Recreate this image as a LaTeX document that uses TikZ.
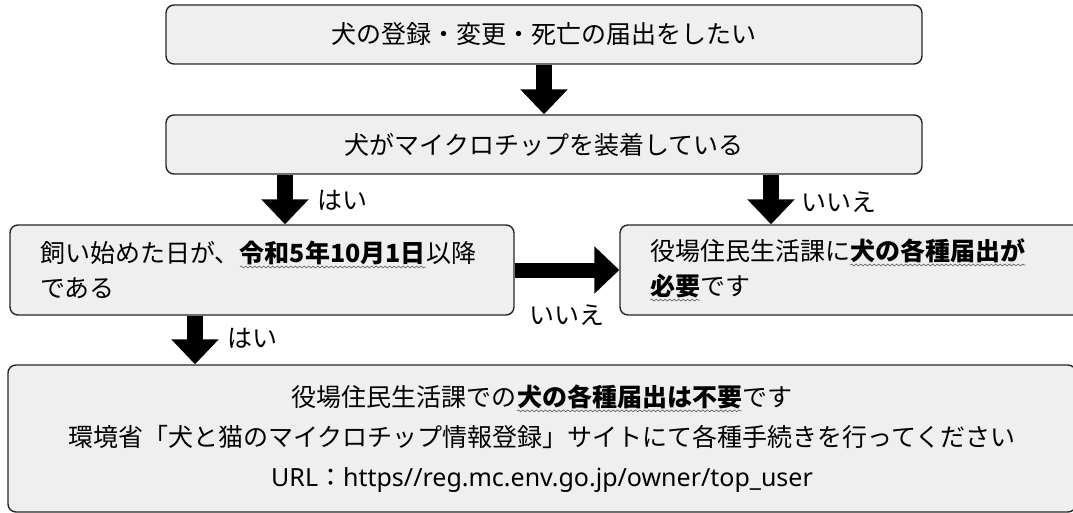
\documentclass[tikz,border=0pt]{standalone}
\usepackage{fontspec}
\setmainfont{Noto Sans CJK JP}
\newfontfamily\urlfont{Noto Sans}
\usetikzlibrary{arrows.meta,decorations.pathmorphing}
\definecolor{boxfill}{HTML}{EFEFEF}
\definecolor{boxline}{HTML}{262626}
\tikzset{
  flowbox/.style={draw=boxline, line width=1.4pt, fill=boxfill, rounded corners=8pt, inner sep=0pt},
  bigarrow/.style={line width=16pt, -{Triangle[width=46pt,length=25pt]}},
  answer/.style={anchor=west, inner sep=0pt},
  wvnode/.style={inner sep=0pt, outer sep=0pt, minimum size=0pt, text width={}, align=none, draw=none, fill=none, sharp corners},
  wavyline/.style={draw=black!65, line width=0.6pt, sharp corners, decorate, decoration={snake,amplitude=0.9pt,segment length=4.5pt}}
}
\newcommand{\wv}[1]{\tikz[baseline=(w.base)]{\node[wvnode] (w) {\bfseries #1}; \draw[wavyline] ([yshift=-2pt]w.south west) -- ([yshift=-2pt]w.south east);}}

\begin{document}
\begin{tikzpicture}[x=1pt, y=-1pt, font=\fontsize{25}{30}\selectfont]
\useasboundingbox (0,0) rectangle (1073,513);
\clip (0,0) rectangle (1073,513);
% boxes
\node[flowbox, minimum width=756pt, minimum height=59pt] (reg) at (544,34.5) {犬の登録・変更・死亡の届出をしたい};
\node[flowbox, minimum width=756pt, minimum height=59pt] (chip) at (544,144.5) {犬がマイクロチップを装着している};
\node[flowbox, minimum width=504pt, minimum height=90pt, text width=444pt, inner xsep=30pt, align=left, font=\fontsize{25}{35}\selectfont] (date) at (262,270) {飼い始めた日が、\wv{令和5年10月1日}以降\\である};
\node[flowbox, minimum width=470pt, minimum height=90pt, text width=410pt, inner xsep=30pt, align=left, font=\fontsize{25}{35}\selectfont] (need) at (855,270) {役場住民生活課に\wv{犬の各種届出が}\\\wv{必要}です};
\node[flowbox, minimum width=1068pt, minimum height=147pt, align=center, font=\fontsize{25}{40}\selectfont] (noneed) at (542,438.5) {役場住民生活課での\wv{犬の各種届出は不要}です\\環境省「犬と猫のマイクロチップ情報登録」サイトにて各種手続きを行ってください\\{\urlfont URL}：{\urlfont https//reg.mc.env.go.jp/owner/top\_user}};
% arrows
\coordinate (yes1) at (285,0);
\coordinate (no1) at (771,0);
\coordinate (yes2) at (195,0);
\draw[bigarrow] (reg.south) -- (chip.north);
\draw[bigarrow] (chip.south -| yes1) -- (date.north -| yes1);
\draw[bigarrow] (chip.south -| no1) -- (need.north -| no1);
\draw[bigarrow, line width=15pt] (date.east) -- (need.west);
\draw[bigarrow] (date.south -| yes2) -- (noneed.north -| yes2);
% labels
\node[answer] (yes1lbl) at (317,200) {はい};
\node[answer] (no1lbl) at (801,202) {いいえ};
\node[inner sep=0pt] (no2lbl) at (567,315) {いいえ};
\node[answer] (yes2lbl) at (227,338) {はい};
\end{tikzpicture}
\end{document}
